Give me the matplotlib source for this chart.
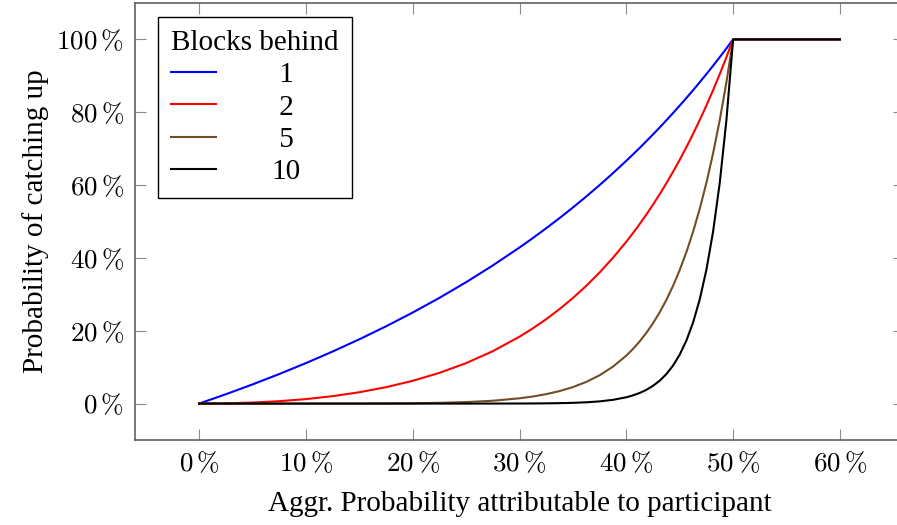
import matplotlib
matplotlib.use("Agg")
import matplotlib.pyplot as plt
from matplotlib.ticker import FixedLocator, FuncFormatter

# Aggregated probability attributable to participant (%)
q_pct = [0, 2.5, 5, 7.5, 10, 12.5, 15, 17.5, 20, 22.5, 25, 27.5, 30, 31.25, 32.5,
         33.75, 35, 36.25, 37.5, 38.75, 40, 40.625, 41.25, 41.875, 42.5, 43.125,
         43.75, 44.375, 45, 45.625, 46.25, 46.875, 47.5, 48.125, 48.75, 49.375,
         50, 60]

# Probability of catching up (%) per number of blocks behind
blocks_1 = [0, 2.56, 5.26, 8.11, 11.11, 14.29, 17.65, 21.21, 25.0, 29.03, 33.33,
            37.93, 42.86, 45.45, 48.15, 50.94, 53.85, 56.86, 60.0, 63.27, 66.67,
            68.42, 70.21, 72.04, 73.91, 75.82, 77.78, 79.78, 81.82, 83.91, 86.05,
            88.24, 90.48, 92.77, 95.12, 97.53, 100, 100]
blocks_2 = [0, 0.07, 0.28, 0.66, 1.23, 2.04, 3.11, 4.50, 6.25, 8.43, 11.11,
            14.39, 18.37, 20.66, 23.18, 25.95, 28.99, 32.33, 36.0, 40.03, 44.44,
            46.81, 49.30, 51.90, 54.63, 57.49, 60.49, 63.64, 66.94, 70.41, 74.04,
            77.85, 81.86, 86.06, 90.48, 95.12, 100, 100]
blocks_5 = [0, 0, 0, 0, 0.002, 0.006, 0.017, 0.043, 0.098, 0.207, 0.412,
            0.78, 1.45, 1.94, 2.59, 3.43, 4.53, 5.94, 7.78, 10.14, 13.17,
            15.00, 17.06, 19.41, 22.06, 25.06, 28.46, 32.31, 36.67, 41.59, 47.17,
            53.48, 60.63, 68.72, 77.88, 88.25, 100, 100]
blocks_10 = [0, 0, 0, 0, 0, 0, 0, 0, 0, 0, 0.002,
             0.006, 0.021, 0.038, 0.067, 0.118, 0.205, 0.353, 0.605, 1.03, 1.73,
             2.25, 2.91, 3.77, 4.87, 6.28, 8.10, 10.44, 13.44, 17.30, 22.25,
             28.60, 36.76, 47.22, 60.65, 77.88, 100, 100]

series = [(" 1", blocks_1, "#0000ff"),
          (" 2", blocks_2, "#ff0000"),
          (" 5", blocks_5, "#734d26"),
          ("10", blocks_10, "#000000")]

x_ticks = [0, 10, 20, 30, 40, 50, 60]
y_ticks = [0, 20, 40, 60, 80, 100]

plt.rcParams["mathtext.fontset"] = "cm"
serif = ["Liberation Serif", "DejaVu Serif"]

fig = plt.figure(figsize=(8.97, 5.25), dpi=100)
ax = fig.add_axes([135 / 897, 85 / 525, (904 - 135) / 897, 437 / 525])

for label, vals, color in series:
    ax.plot(q_pct, vals, color=color, lw=1.5, label=label)

ax.set_xlim(-6, 66)
ax.set_ylim(-10, 110)
ax.xaxis.set_major_locator(FixedLocator(x_ticks))
ax.yaxis.set_major_locator(FixedLocator(y_ticks))
fmt = FuncFormatter(lambda v, p: r"$%d\,\%%$" % int(round(v)))
ax.xaxis.set_major_formatter(fmt)
ax.yaxis.set_major_formatter(fmt)
ax.tick_params(direction="in", length=8, width=0.8, color="#8c8c8c",
               top=True, right=True, labelsize=19.5, pad=8)
for s in ax.spines.values():
    s.set_color("#555555")
    s.set_linewidth(1.1)

ax.set_xlabel("Aggr. Probability attributable to participant", fontsize=21,
              family=serif, labelpad=10)
ax.set_ylabel("Probability of catching up", fontsize=21, family=serif, labelpad=5)

leg = ax.legend(title="Blocks behind", loc="upper left",
                bbox_to_anchor=(23 / 769, 1 - 14 / 437),
                prop={"family": serif, "size": 21},
                title_fontproperties={"family": serif, "size": 21},
                frameon=True, fancybox=False, framealpha=1, edgecolor="black",
                handlelength=1.55, handletextpad=1.9, labelspacing=0.2,
                borderpad=0.45, borderaxespad=0)
leg.get_frame().set_linewidth(1.0)
leg._legend_box.align = "left"

fig.savefig("out.png", dpi=100)
